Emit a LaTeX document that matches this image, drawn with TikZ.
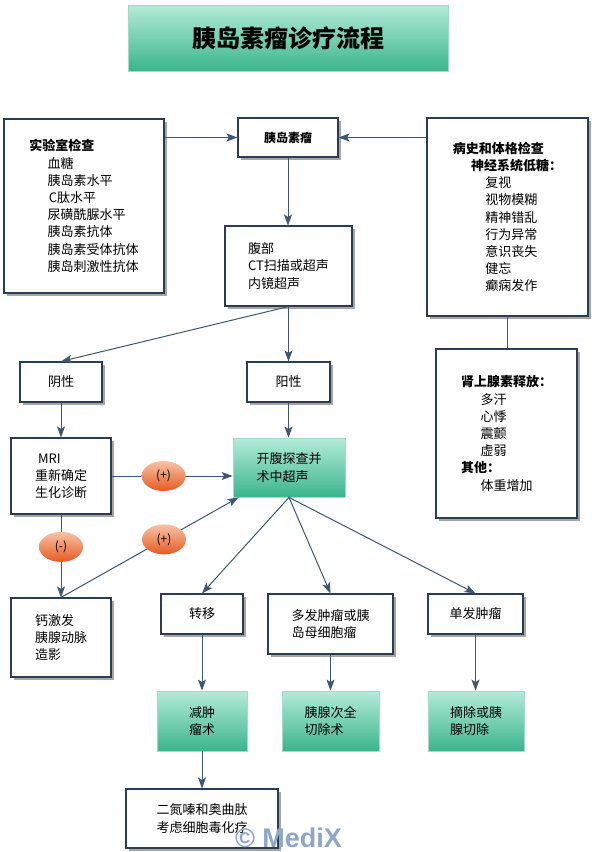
\documentclass[tikz,border=0pt]{standalone}
\usepackage{fontspec}
\setmainfont{Noto Sans CJK SC}
\newfontfamily\markfont{Liberation Sans}
\usepackage{tikz}
\usetikzlibrary{positioning}
\usetikzlibrary{shadows}
\usetikzlibrary{arrows.meta,shapes}
\usetikzlibrary{calc}
\definecolor{boxline}{HTML}{2B3D52}
\definecolor{flowline}{HTML}{3E5671}
\definecolor{greentop}{HTML}{B4EBD8}
\definecolor{greenbot}{HTML}{3AB58B}
\definecolor{greenline}{HTML}{A3DCC6}
\definecolor{pilltop}{HTML}{F8C3A6}
\definecolor{pillbot}{HTML}{E55A22}
\definecolor{markblue}{HTML}{8FA6C6}
\tikzstyle{box}=[draw=boxline,fill=white,line width=1.1pt,inner sep=0pt,align=left,font=\fontsize{13}{17.2}\selectfont,drop shadow={shadow xshift=3pt,shadow yshift=-3pt,fill=black,opacity=0.35}]
\tikzstyle{greenbox}=[draw=greenline,line width=0.8pt,top color=greentop,bottom color=greenbot,inner sep=0pt,align=left,font=\fontsize{13}{17.2}\selectfont]
\tikzstyle{pill}=[ellipse,minimum width=44pt,minimum height=30pt,inner sep=0pt,top color=pilltop,bottom color=pillbot,font=\fontsize{12}{14}\selectfont]
\tikzstyle{flow}=[draw=flowline,line width=1pt,-{Stealth[length=11pt,width=8pt,inset=2.5pt]}]
\tikzstyle{link}=[draw=flowline,line width=1pt]

\begin{document}
\begin{tikzpicture}[x=1pt,y=-1pt]
    \useasboundingbox (0,0) rectangle (592,852);

    % title
    \node[greenbox, minimum width=320pt, minimum height=66pt, font=\fontsize{24}{28}\selectfont\bfseries] (title) at (288,38) {胰岛素瘤诊疗流程};

    % top row
    \node[box, minimum width=160pt, minimum height=174pt] (lab) at (84,206) {\textbf{实验室检查}\\
        \hspace{1.4em}血糖\\ \hspace{1.4em}胰岛素水平\\ \hspace{1.5em}C肽水平\\ \hspace{1.4em}尿磺酰脲水平\\
        \hspace{1.4em}胰岛素抗体\\ \hspace{1.4em}胰岛素受体抗体\\ \hspace{1.4em}胰岛刺激性抗体};
    \node[box, minimum width=100pt, minimum height=39pt, font=\fontsize{12}{14}\selectfont\bfseries] (tumor) at (288,137.5) {胰岛素瘤};
    \node[box, minimum width=161pt, minimum height=198pt] (hist) at (507.5,217) {\textbf{病史和体格检查}\\
        \hspace{1.4em}\textbf{神经系统低糖：}\\ \hspace{2.5em}复视\\ \hspace{2.5em}视物模糊\\ \hspace{2.5em}精神错乱\\
        \hspace{2.5em}行为异常\\ \hspace{2.5em}意识丧失\\ \hspace{2.5em}健忘\\ \hspace{2.5em}癫痫发作};
    \node[box, minimum width=127pt, minimum height=80pt] (scan) at (288.5,266) {腹部\\CT扫描或超声\\内镜超声};
    \node[box, minimum width=141pt, minimum height=169pt] (adr) at (506.5,433.5) {\textbf{肾上腺素释放：}\\
        \hspace{1.5em}多汗\\ \hspace{1.5em}心悸\\ \hspace{1.5em}震颤\\ \hspace{1.5em}虚弱\\
        \textbf{其他：}\\ \hspace{1.5em}体重增加};

    % middle
    \node[box, minimum width=82pt, minimum height=40pt] (neg) at (61,382) {阴性};
    \node[box, minimum width=83pt, minimum height=40pt] (pos) at (288.5,382) {阳性};
    \node[box, minimum width=100pt, minimum height=76pt] (mri) at (61,476) {\hspace{3pt}MRI\\重新确定\\生化诊断};
    \node[greenbox, minimum width=112pt, minimum height=59pt] (lap) at (289,467.5) {开腹探查并\\术中超声};
    \node[box, minimum width=100pt, minimum height=79pt] (calc) at (61,637.5) {钙激发\\胰腺动脉\\造影};

    % findings
    \node[box, minimum width=82pt, minimum height=40pt] (meta) at (202,614) {转移};
    \node[box, minimum width=125pt, minimum height=60pt] (multi) at (330.5,624) {多发肿瘤或胰\\岛母细胞瘤};
    \node[box, minimum width=95pt, minimum height=40pt] (single) at (475.5,614) {单发肿瘤};

    % surgery
    \node[greenbox, minimum width=90pt, minimum height=60pt] (debulk) at (202,721) {减肿\\瘤术};
    \node[greenbox, minimum width=97pt, minimum height=60pt] (subtotal) at (330.5,721) {胰腺次全\\切除术};
    \node[greenbox, minimum width=96pt, minimum height=60pt] (enuc) at (476,721) {摘除或胰\\腺切除};
    \node[box, minimum width=152pt, minimum height=59pt] (chemo) at (202,818.5) {二氮嗪和奥曲肽\\考虑细胞毒化疗};

    % connectors
    \path[flow] (tumor.west -| lab.east) -- (tumor.west);
    \path[flow] (tumor.east -| hist.west) -- (tumor.east);
    \path[link] (hist.south) -- (hist.south |- adr.north);

    \foreach \source/\dest in {tumor/scan, neg/mri, pos/lap, meta/debulk, multi/subtotal, single/enuc, debulk/chemo}
        \path[flow] (\source.south) -- (\source.south |- \dest.north);

    \foreach \dest in {neg, pos}
        \path[flow] (scan.south) -- (\dest.north);
    \foreach \dest in {meta, multi, single}
        \path[flow] (lap.south) -- (\dest.north);

    \path[flow] (mri.east) -- node[pill, pos=0.43] (plusa) {(+)} (mri.east -| lap.west);
    \path[flow] (mri.south) -- node[pill, pos=0.39] (minus) {(-)} (calc.north);
    \path[flow] (calc.north) -- node[pill, pos=0.58] (plusb) {(+)} ([xshift=6pt]lap.south west);

    % watermark
    \node[anchor=base, font=\markfont\bfseries\fontsize{27}{27}\selectfont, text=markblue] (mark) at (288.5,847) {© MediX};

\end{tikzpicture}
\end{document}
